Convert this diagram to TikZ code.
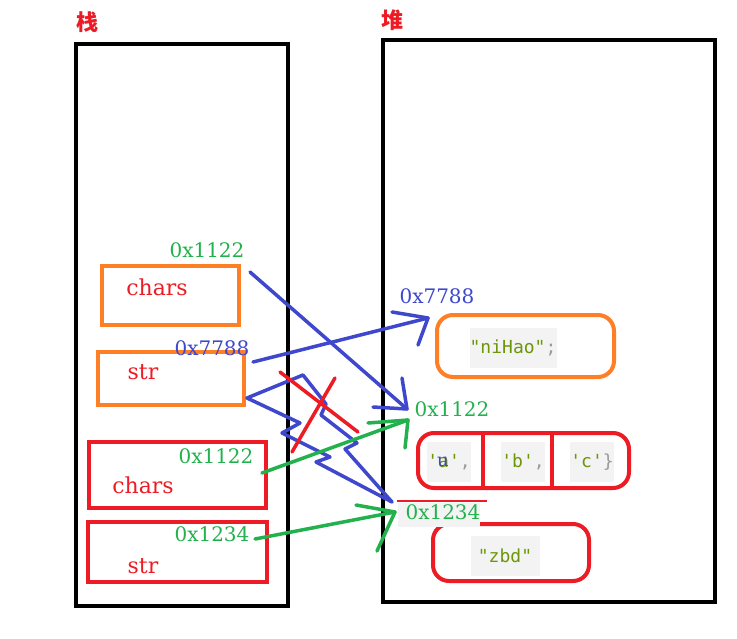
\documentclass[tikz,border=0pt]{standalone}
\usepackage{fontspec}
\setmainfont{DejaVu Serif}
\newfontfamily\cjk{Noto Sans CJK SC}
\newfontfamily\codefont[Ligatures=TeXOff]{DejaVu Sans Mono}
\definecolor{pblue}{HTML}{3F48CC}
\definecolor{pgreen}{HTML}{22B14C}
\definecolor{pred}{HTML}{ED1C24}
\definecolor{porange}{HTML}{FF7F27}
\definecolor{codegreen}{RGB}{110,150,10}
\definecolor{codebg}{HTML}{F3F3F3}
\definecolor{punct}{HTML}{9A9A9A}
\begin{document}
\begin{tikzpicture}[x=1pt,y=-1pt,
  frame/.style={draw=black, line width=4pt, inner sep=0pt},
  obox/.style={draw=porange, line width=4pt, inner sep=0pt},
  rbox/.style={draw=pred, line width=4pt, inner sep=0pt},
  title/.style={font=\cjk\bfseries\fontsize{22}{22}\selectfont, text=pred, inner sep=0pt},
  lbl/.style={font=\fontsize{20}{20}\selectfont, inner sep=0pt},
  nm/.style={font=\fontsize{22}{22}\selectfont, text=pred, inner sep=0pt},
  code/.style={font=\codefont\fontsize{18}{18}\selectfont, text=codegreen, fill=codebg, inner sep=0pt, minimum height=40pt},
  ptr/.style={line width=3.5pt, line cap=round, line join=round},
  stroke/.style={line width=3.5pt, line cap=round}]
\path[use as bounding box, fill=white] (0,0) rectangle (737,638);

% titles
\node[title] (tstack) at (87,22) {栈};
\node[title] (theap) at (392,20) {堆};

% frames
\node[frame, minimum width=212pt, minimum height=562pt] (stack) at (182,325) {};
\node[frame, minimum width=332pt, minimum height=562pt] (heap) at (549,321) {};

% stack boxes
\node[obox, minimum width=137pt, minimum height=59pt] (c1) at (170.5,295.5) {};
\node[obox, minimum width=146pt, minimum height=53pt] (s1) at (171,378.5) {};
\node[rbox, minimum width=177pt, minimum height=66pt] (c2) at (177.5,475) {};
\node[rbox, minimum width=179pt, minimum height=60pt] (s2) at (177.5,552) {};

\node[lbl, text=pgreen] (a1) at (207,250) {0x1122};
\node[nm] (n1) at (157,287) {chars};
\node[lbl, text=pblue] (a2) at (212,348) {0x7788};
\node[nm] (n2) at (143,372) {str};
\node[lbl, text=pgreen] (a3) at (216,456) {0x1122};
\node[nm] (n3) at (143,485) {chars};
\node[lbl, text=pgreen] (a4) at (212,534) {0x1234};
\node[nm] (n4) at (143,566) {str};

% heap objects
\node[obox, rounded corners=16pt, minimum width=177pt, minimum height=62pt] (hstr) at (525.5,346) {};
\node[code, minimum width=87pt] (vnihao) at (513,348) {"niHao"\textcolor{punct}{;}};
\node[lbl, text=pblue] (h1) at (437,296) {0x7788};

\node[rbox, rounded corners=16pt, minimum width=211pt, minimum height=55pt] (harr) at (523.5,460.5) {};
\draw[pred, line width=4pt] (harr.north west -| 483,0) coordinate (d1t) -- (harr.south west -| 483,0) coordinate (d1b);
\draw[pred, line width=4pt] (harr.north west -| 552,0) coordinate (d2t) -- (harr.south west -| 552,0) coordinate (d2b);
\node[code, minimum width=40pt] (va) at (449,462) {'a'\textcolor{punct}{,}};
\node[font=\fontsize{18}{18}\selectfont, text=pblue, inner sep=0pt] (vu) at (443,462) {u};
\node[code, minimum width=40pt] (vb) at (523,462) {'b'\textcolor{punct}{,}};
\node[code, minimum width=44pt] (vc) at (592,462) {'c'\textcolor{punct}{\}}};
\node[lbl, text=pgreen] (h2) at (452,409) {0x1122};

\node[rbox, rounded corners=16pt, minimum width=156pt, minimum height=57pt] (hzbd) at (511,552.5) {};
\node[code, minimum width=69pt] (vzbd) at (505,556) {"zbd"};
\node[fill=codebg, inner sep=0pt, minimum width=82pt, minimum height=24pt] (h3bg) at (439,515) {};
\node[lbl, text=pgreen] (h3) at (443,512) {0x1234};
\coordinate (rl1) at (397,501);
\coordinate (rl2) at (487,501);
\draw[pred, line width=2pt] (rl1) -- (rl2);

% blue arrow 0x1122 -> heap 0x1122
\coordinate (b1s) at (250,272);
\coordinate (b1e) at (407,409);
\coordinate (b1h1) at (402,378);
\coordinate (b1h2) at (373,407);
\draw[ptr, pblue] (b1s) -- (b1e);
\draw[stroke, pblue] (b1h1) -- (b1e);
\draw[stroke, pblue] (b1h2) -- (b1e);

% blue arrow 0x7788 -> niHao
\coordinate (b2s) at (253,362);
\coordinate (b2e) at (428,318);
\coordinate (b2h1) at (392,312);
\coordinate (b2h2) at (418,345);
\draw[ptr, pblue] (b2s) -- (b2e);
\draw[stroke, pblue] (b2h1) -- (b2e);
\draw[stroke, pblue] (b2h2) -- (b2e);

% blue zigzag from str to 0x1234
\coordinate (z0) at (247,398);
\coordinate (zu1) at (303,375);
\coordinate (zu2) at (326,404);
\coordinate (zu3) at (321,415);
\coordinate (zu4) at (357,443);
\coordinate (zu5) at (345,449);
\coordinate (zl1) at (300,423);
\coordinate (zl2) at (282,433);
\coordinate (zl3) at (330,457);
\coordinate (zl4) at (316,462);
\coordinate (ze) at (392,502);
\draw[ptr, pblue] (ze) -- (zu5) -- (zu4) -- (zu3) -- (zu2) -- (zu1) -- (z0) -- (zl1) -- (zl2) -- (zl3) -- (zl4) -- (ze);

% red cross
\coordinate (x1a) at (280,372);
\coordinate (x1b) at (358,432);
\coordinate (x2a) at (335,378);
\coordinate (x2b) at (292,452);
\draw[stroke, pred] (x1a) -- (x1b);
\draw[stroke, pred] (x2a) -- (x2b);

% green arrow chars -> 0x1122
\coordinate (g1s) at (262,473);
\coordinate (g1e) at (408,420);
\coordinate (g1h1) at (368,423);
\coordinate (g1h2) at (405,448);
\draw[ptr, pgreen] (g1s) -- (g1e);
\draw[stroke, pgreen] (g1h1) -- (g1e);
\draw[stroke, pgreen] (g1h2) -- (g1e);

% green arrow str -> 0x1234
\coordinate (g2s) at (255,539);
\coordinate (g2e) at (395,512);
\coordinate (g2h1) at (356,505);
\coordinate (g2h2) at (377,551);
\draw[ptr, pgreen] (g2s) -- (g2e);
\draw[stroke, pgreen] (g2h1) -- (g2e);
\draw[stroke, pgreen] (g2h2) -- (g2e);
\end{tikzpicture}
\end{document}
